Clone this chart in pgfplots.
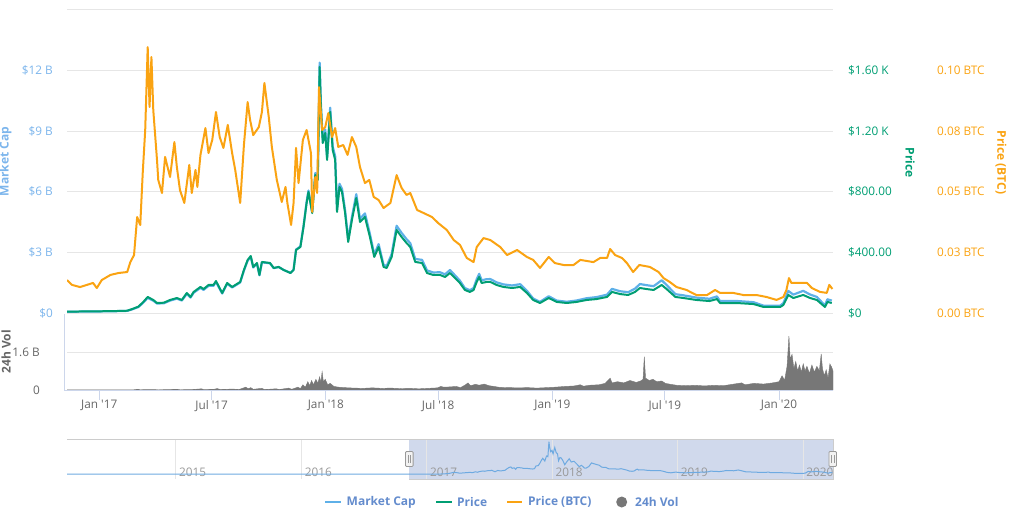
\documentclass[border=0pt]{standalone}
\usepackage{pgfplots}
\pgfplotsset{compat=1.18}
\usepackage{pgfplotstable}
\usepackage{fontspec}
\setmainfont{Open Sans}

\definecolor{capblue}{RGB}{94,176,232}
\definecolor{caplabel}{RGB}{124,181,236}
\definecolor{pricegreen}{RGB}{0,158,115}
\definecolor{btcorange}{RGB}{250,163,18}
\definecolor{volgray}{RGB}{119,119,119}
\definecolor{gridgray}{RGB}{230,230,230}
\definecolor{axisblue}{RGB}{204,214,235}
\definecolor{ticktext}{RGB}{102,102,102}
\definecolor{legendtext}{RGB}{100,140,205}
\definecolor{navmask}{RGB}{208,217,236}
\definecolor{navborder}{RGB}{204,204,204}
\definecolor{navtext}{RGB}{153,153,153}
\definecolor{navline}{RGB}{110,170,225}
\definecolor{handlefill}{RGB}{242,242,242}
\definecolor{handledraw}{RGB}{153,153,153}

\newcommand\tickfont{\fontsize{11.8}{14}\selectfont}
\newcommand\titlefont{\bfseries\fontsize{12}{14}\selectfont}

% day = days since 2017-01-01 ; price in USD ; cap in billion USD
\pgfplotstableread{
day price cap
-52 9 0.061
-10 11 0.076
18 12 0.083
45 15 0.105
53 26 0.182
63 42 0.295
71 73 0.515
78 106 0.748
87 86 0.609
93 66 0.468
104 68 0.483
114 86 0.613
125 99 0.709
133 86 0.617
141 132 0.949
147 106 0.763
152 139 1.002
163 172 1.244
168 158 1.144
176 185 1.343
184 185 1.347
188 211 1.538
198 132 0.965
206 198 1.449
214 172 1.262
227 205 1.511
233 284 2.096
239 350 2.587
244 376 2.782
248 304 2.253
254 330 2.449
258 251 1.865
262 337 2.507
275 330 2.462
281 297 2.222
289 304 2.277
297 284 2.133
308 264 1.988
313 284 2.141
317 416 3.141
324 436 3.296
329 568 4.300
334 726 5.503
337 799 6.064
343 660 5.016
348 911 6.933
352 878 6.690
355 1624 12.391
357 1360 10.377
360 1122 8.572
364 1188 9.088
367 1010 7.727
372 1327 10.165
376 1076 8.253
380 1010 7.757
383 667 5.129
387 832 6.398
391 799 6.152
396 660 5.089
401 469 3.621
407 614 4.746
414 759 5.882
420 601 4.664
428 634 4.933
436 502 3.911
443 370 2.890
450 436 3.410
458 304 2.383
463 297 2.331
471 370 2.912
479 548 4.318
487 502 3.966
495 462 3.654
501 436 3.457
509 337 2.676
520 330 2.630
528 264 2.107
538 251 2.008
549 251 2.016
557 238 1.914
565 264 2.128
573 231 1.864
581 198 1.602
589 152 1.233
597 139 1.129
603 152 1.237
608 205 1.671
612 238 1.940
616 198 1.616
624 205 1.677
630 205 1.679
640 185 1.519
651 172 1.416
665 165 1.363
678 172 1.426
689 132 1.097
699 86 0.716
710 66 0.552
724 99 0.830
737 73 0.614
753 66 0.557
769 73 0.619
785 86 0.732
801 92 0.786
818 106 0.909
826 139 1.194
839 125 1.078
852 119 1.029
863 139 1.205
871 165 1.434
882 158 1.376
893 152 1.327
906 185 1.621
914 158 1.386
928 106 0.933
941 99 0.874
962 86 0.763
983 79 0.705
995 92 0.822
1000 66 0.591
1027 66 0.595
1054 59 0.535
1070 40 0.364
1097 40 0.366
1102 53 0.485
1110 119 1.092
1118 99 0.910
1134 119 1.097
1145 99 0.916
1156 86 0.797
1169 40 0.372
1173 73 0.679
1180 66 0.615
}\pricetable

\pgfplotstableread{
day btc
-52 0.0136
-44 0.0116
-31 0.0107
-10 0.0124
-4 0.0103
4 0.0136
18 0.0157
31 0.0165
45 0.0169
50 0.0210
56 0.0239
61 0.0396
66 0.0363
70 0.0578
74 0.0755
78 0.1097
81 0.0850
84 0.1056
87 0.0837
93 0.0631
95 0.0549
101 0.0495
106 0.0644
114 0.0561
121 0.0705
125 0.0602
130 0.0507
137 0.0454
145 0.0611
149 0.0495
155 0.0590
158 0.0520
163 0.0652
171 0.0763
176 0.0660
182 0.0714
188 0.0829
194 0.0726
200 0.0681
207 0.0776
214 0.0660
219 0.0590
227 0.0454
233 0.0693
239 0.0870
243 0.0796
248 0.0734
257 0.0767
262 0.0829
266 0.0949
273 0.0809
278 0.0685
286 0.0549
294 0.0458
300 0.0520
303 0.0454
309 0.0363
313 0.0454
317 0.0681
321 0.0536
328 0.0714
334 0.0755
341 0.0660
343 0.0417
348 0.0561
351 0.0495
354 0.0932
359 0.0755
364 0.0767
369 0.0825
375 0.0726
380 0.0763
385 0.0685
393 0.0693
400 0.0652
407 0.0726
414 0.0685
420 0.0602
428 0.0536
435 0.0549
442 0.0479
450 0.0466
458 0.0433
469 0.0454
479 0.0569
487 0.0516
495 0.0487
501 0.0495
512 0.0425
522 0.0413
536 0.0396
546 0.0371
560 0.0342
571 0.0301
581 0.0281
592 0.0227
603 0.0210
608 0.0272
619 0.0309
630 0.0301
646 0.0272
657 0.0239
673 0.0260
689 0.0231
699 0.0219
710 0.0186
724 0.0231
734 0.0206
748 0.0198
764 0.0198
775 0.0219
796 0.0210
807 0.0227
818 0.0227
823 0.0264
831 0.0239
842 0.0227
850 0.0206
860 0.0169
870 0.0198
887 0.0190
901 0.0169
909 0.0144
919 0.0128
930 0.0107
946 0.0095
962 0.0074
979 0.0074
992 0.0095
1000 0.0083
1021 0.0083
1038 0.0074
1059 0.0074
1075 0.0066
1091 0.0054
1102 0.0066
1107 0.0095
1111 0.0144
1115 0.0124
1129 0.0124
1140 0.0124
1148 0.0103
1161 0.0087
1172 0.0083
1176 0.0116
1181 0.0099
}\btctable

% 24h volume, billion USD
\pgfplotstableread{
day vol
-52 0.004
-20 0.005
0 0.005
30 0.006
55 0.008
62 0.03
66 0.01
80 0.02
95 0.01
110 0.015
125 0.03
130 0.01
150 0.02
165 0.05
168 0.015
185 0.03
190 0.06
195 0.02
215 0.04
225 0.02
236 0.12
240 0.05
244 0.10
248 0.03
262 0.07
266 0.02
285 0.05
290 0.02
305 0.08
310 0.03
320 0.12
324 0.06
328 0.22
332 0.12
336 0.35
339 0.18
342 0.40
345 0.22
349 0.45
352 0.28
355 0.55
357 0.32
359 0.77
361 0.35
364 0.45
368 0.22
372 0.28
378 0.15
385 0.12
395 0.10
410 0.08
425 0.07
440 0.09
455 0.07
470 0.08
485 0.06
500 0.07
515 0.05
530 0.07
545 0.09
550 0.15
555 0.12
565 0.13
575 0.15
582 0.10
590 0.22
594 0.30
598 0.18
606 0.24
612 0.20
620 0.25
628 0.18
636 0.15
645 0.11
660 0.10
675 0.09
690 0.10
705 0.08
720 0.10
735 0.12
750 0.15
765 0.17
775 0.22
780 0.16
790 0.20
805 0.22
815 0.28
823 0.50
826 0.30
835 0.35
845 0.30
855 0.40
865 0.32
872 0.38
876 0.45
878 1.40
880 0.50
886 0.40
892 0.45
898 0.35
906 0.38
912 0.28
920 0.24
930 0.20
945 0.18
960 0.20
975 0.17
990 0.20
1005 0.18
1020 0.24
1035 0.30
1040 0.22
1055 0.28
1070 0.25
1085 0.30
1095 0.35
1100 0.60
1104 0.40
1108 1.00
1111 2.27
1113 1.30
1116 1.50
1119 0.90
1122 1.20
1125 0.80
1128 1.05
1131 0.75
1134 1.10
1137 0.80
1140 1.00
1144 0.70
1148 1.05
1152 0.75
1156 1.00
1160 0.80
1163 1.52
1165 0.90
1168 0.60
1171 0.85
1174 0.50
1177 1.10
1180 0.95
1182 0.80
}\voltable

% navigator: market cap history before the zoomed range, billion USD
\pgfplotstableread{
day cap
-1048 0.01
-1000 0.03
-950 0.06
-900 0.05
-850 0.03
-800 0.02
-731 0.02
-650 0.02
-550 0.015
-450 0.02
-365 0.025
-300 0.03
-200 0.045
-100 0.06
-52 0.061
}\navearly

\pgfplotsset{
  mainax/.style={at={(67pt,202pt)}, anchor=south west, scale only axis,
    width=766pt, height=303pt, xmin=-52, xmax=1182, xtick=\empty,
    axis line style={draw=none}, major tick length=0pt,
    grid style={gridgray, line width=1pt}, clip=true},
}

\begin{document}
\begin{tikzpicture}[x=1pt,y=1pt]
\path[use as bounding box] (0,0) rectangle (1015,515);

% ---------- main pane: market cap ----------
\begin{axis}[mainax, ymin=0, ymax=15,
  ytick={0,3,6,9,12,15}, yticklabels={\$0,\$3 B,\$6 B,\$9 B,\$12 B,{}},
  ymajorgrids,
  yticklabel style={anchor=east, inner sep=0pt, xshift=-14pt, text=caplabel, font=\tickfont}]
\addplot[capblue, line width=2.2pt, line join=round] table[x=day, y=cap]{\pricetable};
\end{axis}

% ---------- main pane: price USD ----------
\begin{axis}[mainax, ymin=0, ymax=2000,
  ytick={0,400,800,1200,1600}, yticklabels={\$0,\$400.00,\$800.00,\$1.20 K,\$1.60 K},
  yticklabel pos=right,
  yticklabel style={anchor=west, inner sep=0pt, xshift=15pt, text=pricegreen, font=\tickfont}]
\addplot[pricegreen, line width=2pt, line join=round] table[x=day, y=price]{\pricetable};
\end{axis}

% ---------- main pane: price BTC ----------
\begin{axis}[mainax, ymin=0, ymax=0.125,
  ytick={0,0.025,0.05,0.075,0.1}, yticklabels={0.00 BTC,0.03 BTC,0.05 BTC,0.08 BTC,0.10 BTC},
  yticklabel pos=right,
  yticklabel style={anchor=west, inner sep=0pt, xshift=104pt, text=btcorange, font=\tickfont}]
\addplot[btcorange, line width=2pt, line join=round] table[x=day, y=btc]{\btctable};
\end{axis}

% ---------- volume pane ----------
\begin{axis}[at={(67pt,125pt)}, anchor=south west, scale only axis,
  width=766pt, height=76pt, xmin=-52, xmax=1182, ymin=0, ymax=3.2,
  axis line style={draw=none},
  ytick={0,1.6,3.2}, yticklabels={0,1.6 B,{}}, ymajorgrids,
  grid style={gridgray, line width=1pt},
  ytick style={draw=none},
  yticklabel style={anchor=east, inner sep=0pt, xshift=-17pt, text=ticktext, font=\tickfont},
  xtick={0,181,365,546,730,911,1095},
  xticklabels={Jan \textquotesingle17,Jul \textquotesingle17,Jan \textquotesingle18,Jul \textquotesingle18,Jan \textquotesingle19,Jul \textquotesingle19,Jan \textquotesingle20},
  xtick pos=bottom, xticklabel pos=lower,
  tick align=outside, x tick style={axisblue, line width=1pt}, major tick length=10pt,
  xticklabel style={anchor=north, inner sep=0pt, text=ticktext, font=\tickfont}]
\addplot[volgray, fill=volgray, line width=0.4pt] table[x=day, y=vol]{\voltable} \closedcycle;
\end{axis}
\draw[axisblue, line width=1pt] (64.3,201) -- (64.3,125) -- (833,125);

% ---------- navigator ----------
\fill[navmask] (409,36) rectangle (833,76);
\begin{axis}[at={(67pt,36pt)}, anchor=south west, scale only axis,
  width=766pt, height=40pt, xmin=-1048, xmax=1182, ymin=-1.8, ymax=13.4,
  axis line style={draw=none}, major tick length=0pt,
  ytick=\empty,
  xtick={-731,-365,0,365,730,1095}, xticklabels={2015,2016,2017,2018,2019,2020},
  xmajorgrids, grid style={gridgray, line width=1pt},
  xticklabel style={anchor=south west, inner sep=0pt, xshift=3pt, yshift=2.5pt, text=navtext, font=\tickfont}]
\addplot[navline, line width=1pt] table[x=day, y=cap]{\navearly};
\addplot[navline, line width=1pt] table[x=day, y=cap]{\pricetable};
\end{axis}
\draw[navborder, line width=1pt] (67,76) -- (833,76);
\draw[navborder, line width=0.8pt] (409,36) -- (833,36) -- (833,76);
\foreach \hx in {409.3,832.7}{
  \draw[fill=handlefill, draw=handledraw, line width=0.8pt, rounded corners=1pt] (\hx-3.8,48.5) rectangle (\hx+3.8,63.5);
  \draw[handledraw, line width=0.7pt] (\hx-1.2,52) -- (\hx-1.2,60) (\hx+1.2,52) -- (\hx+1.2,60);
}

% ---------- axis titles ----------
\node[rotate=90, font=\titlefont, text=caplabel] at (5.5,353.5) {Market Cap};
\node[rotate=-90, font=\titlefont, text=pricegreen] at (910,352.5) {Price};
\node[rotate=-90, font=\titlefont, text=btcorange] at (1001,352.5) {Price (BTC)};
\node[rotate=90, font=\titlefont, text=ticktext] at (6,163) {24h Vol};

% ---------- legend ----------
\draw[capblue, line width=2pt] (325,13) -- (341,13);
\node[anchor=west, inner sep=0pt, font=\titlefont, text=legendtext] at (346.5,13) {Market Cap};
\draw[pricegreen, line width=2pt] (436,13) -- (452,13);
\node[anchor=west, inner sep=0pt, font=\titlefont, text=legendtext] at (457,13) {Price};
\draw[btcorange, line width=2pt] (507,13) -- (522,13);
\node[anchor=west, inner sep=0pt, font=\titlefont, text=legendtext] at (528,13) {Price (BTC)};
\fill[volgray] (621.7,13) circle (5.5);
\node[anchor=west, inner sep=0pt, font=\titlefont, text=legendtext] at (635,13) {24h Vol};
\end{tikzpicture}
\end{document}
